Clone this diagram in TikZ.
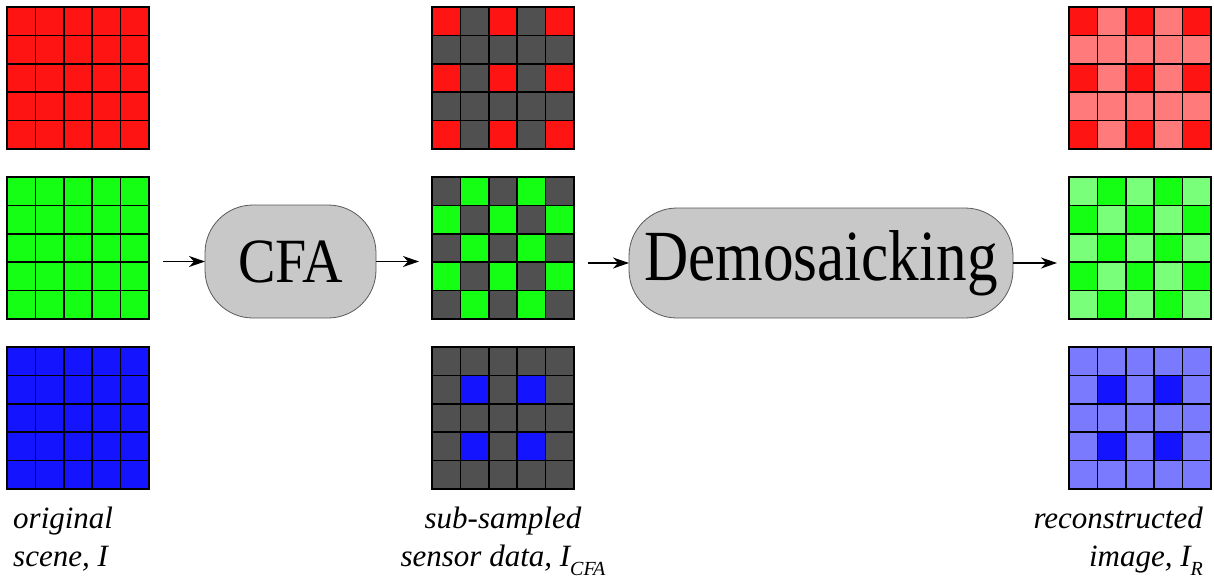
\documentclass[tikz,border=0pt]{standalone}
\usepackage{fontspec}
\newfontfamily\cfafont{Liberation Serif}[FakeStretch=0.89]
\newfontfamily\demofont{Liberation Serif}[FakeStretch=0.85]
\newfontfamily\captfont{Liberation Serif Italic}
\usetikzlibrary{arrows.meta}

\definecolor{pixred}{RGB}{255,20,20}
\definecolor{pixgreen}{RGB}{20,255,20}
\definecolor{pixblue}{RGB}{20,20,255}
\definecolor{estred}{RGB}{255,122,122}
\definecolor{estgreen}{RGB}{122,255,122}
\definecolor{estblue}{RGB}{122,122,255}
\definecolor{unsampled}{RGB}{80,80,80}
\definecolor{boxgray}{RGB}{200,200,200}

% 5x5 mosaic: #1,#2 top-left corner, #3 sampling pattern
% (0 all, 1 red sites, 2 green sites, 3 blue sites), #4 sampled colour, #5 other colour
\newcommand\mosaic[5]{%
  \foreach \mrow in {0,...,4}{%
    \foreach \mcol in {0,...,4}{%
      \def\mfill{#5}%
      \ifcase#3
        \def\mfill{#4}%
      \or
        \ifodd\mrow\else\ifodd\mcol\else\def\mfill{#4}\fi\fi
      \or
        \ifodd\numexpr\mrow+\mcol\relax\def\mfill{#4}\fi
      \or
        \ifodd\mrow\ifodd\mcol\def\mfill{#4}\fi\fi
      \fi
      \draw[pixel, fill=\mfill] (#1+\mcol*28.4, #2+\mrow*28.4) rectangle ++(28.4,28.4);
    }%
  }%
}

\begin{document}
\begin{tikzpicture}[x=1pt, y=-1pt,
  pixel/.style={draw=black, line width=1.7pt},
  gridframe/.style={minimum width=142pt, minimum height=142pt, inner sep=0pt, outer sep=0pt},
  proc/.style={draw=black!65, line width=0.8pt, fill=boxgray, rounded corners=48pt,
    inner sep=0pt, outer sep=0pt},
  flow/.style={-{Stealth[length=16pt,width=11pt,inset=5pt]}, line width=1.5pt},
  lab/.style={inner sep=0pt}
]
\useasboundingbox (0,0) rectangle (1214,582);

% captions
\node[lab, anchor=base west] (l1a) at (13,528) {\captfont\fontsize{31}{38}\selectfont original};
\node[lab, anchor=base west] (l1b) at (13,566) {\captfont\fontsize{31}{38}\selectfont scene, I};
\node[lab, anchor=base] (l2a) at (503,528) {\captfont\fontsize{31}{38}\selectfont sub-sampled};
\node[lab, anchor=base] (l2b) at (503,566) {\captfont\fontsize{31}{38}\selectfont sensor data, I\raisebox{-9pt}{\fontsize{20}{20}\selectfont CFA}};
\node[lab, anchor=base east] (l3a) at (1203,528) {\captfont\fontsize{31}{38}\selectfont reconstructed};
\node[lab, anchor=base east] (l3b) at (1203,566) {\captfont\fontsize{31}{38}\selectfont image, I\raisebox{-9pt}{\fontsize{20}{20}\selectfont R}};

% processing stages
\node[proc, minimum width=171pt, minimum height=113pt] (cfa) at (290.5,261.5)
  {\cfafont\fontsize{63}{63}\selectfont CFA};
\node[proc, minimum width=384pt, minimum height=110pt] (demo) at (821,263)
  {\demofont\fontsize{72}{72}\selectfont Demosaicking};

% original scene
\mosaic{7}{7}{0}{pixred}{pixred}
\mosaic{7}{177}{0}{pixgreen}{pixgreen}
\mosaic{7}{347}{0}{pixblue}{pixblue}
\node[gridframe] (sceneG) at (78,248) {};

% CFA samples
\mosaic{432}{7}{1}{pixred}{unsampled}
\mosaic{432}{177}{2}{pixgreen}{unsampled}
\mosaic{432}{347}{3}{pixblue}{unsampled}
\node[gridframe] (cfaG) at (503,248) {};

% reconstruction
\mosaic{1069}{7}{1}{pixred}{estred}
\mosaic{1069}{177}{2}{pixgreen}{estgreen}
\mosaic{1069}{347}{3}{pixblue}{estblue}
\node[gridframe] (recG) at (1140,248) {};

\draw[flow, shorten <=14pt] (cfa.west -| sceneG.east) -- (cfa.west);
\draw[flow, shorten >=13pt] (cfa.east) -- (cfa.east -| cfaG.west);
\draw[flow, shorten <=14pt] (demo.west -| cfaG.east) -- (demo.west);
\draw[flow, shorten >=12pt] (demo.east) -- (demo.east -| recG.west);
\end{tikzpicture}
\end{document}
